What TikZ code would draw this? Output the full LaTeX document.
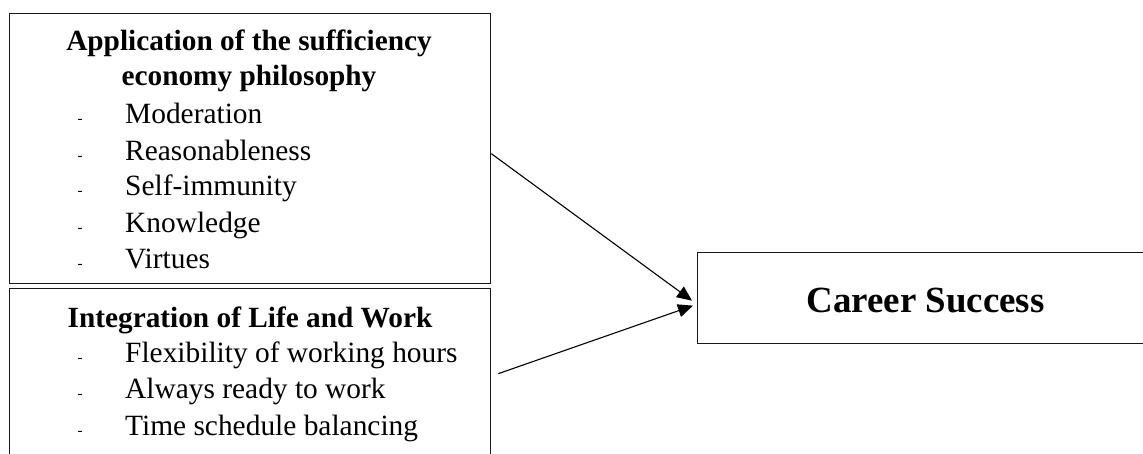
\documentclass[tikz,border=0pt]{standalone}
\usepackage{fontspec}
\setmainfont{Liberation Serif}
\usetikzlibrary{arrows.meta}
\begin{document}
\begin{tikzpicture}[x=1pt,y=-1pt,
  box/.style={draw=black!90, line width=1.3pt, inner sep=0pt, anchor=north west},
  head/.style={font=\fontsize{29.3}{35}\selectfont\bfseries, anchor=base, inner sep=0pt},
  big/.style={font=\fontsize{36.9}{44}\selectfont\bfseries, anchor=base, inner sep=0pt},
  item/.style={font=\fontsize{29.4}{35}\selectfont, anchor=base west, inner sep=0pt},
  dsh/.style={font=\fontsize{15}{18}\selectfont, anchor=base, inner sep=0pt},
  arr/.style={-{Triangle[length=15pt,width=13pt]}, line width=1.1pt}]
\useasboundingbox (0,0) rectangle (1143,453);
\clip (0,0) rectangle (1143,453);
\node[box, minimum width=481pt, minimum height=270pt] (b1) at (9,13) {};
\node[box, minimum width=481pt, minimum height=200pt] (b2) at (9,288) {};
\node[box, minimum width=457pt, minimum height=91pt] (cs) at (697,252) {};
% box 1 texts
\node[head] (h1a) at (249,50) {Application of the sufficiency};
\node[head] (h1b) at (249,85) {economy philosophy};
\node[dsh] (d11) at (80,123) {-}; \node[item] (i11) at (125,123) {Moderation};
\node[dsh] (d12) at (80,160) {-}; \node[item] (i12) at (125,160) {Reasonableness};
\node[dsh] (d13) at (80,195) {-}; \node[item] (i13) at (125,195) {Self-immunity};
\node[dsh] (d14) at (80,232) {-}; \node[item] (i14) at (125,232) {Knowledge};
\node[dsh] (d15) at (80,268) {-}; \node[item] (i15) at (125,268) {Virtues};
% box 2 texts
\node[head] (h2) at (250,327) {Integration of Life and Work};
\node[dsh] (d21) at (80,362) {-}; \node[item] (i21) at (125,362) {Flexibility of working hours};
\node[dsh] (d22) at (80,398) {-}; \node[item] (i22) at (125,398) {Always ready to work};
\node[dsh] (d23) at (80,435) {-}; \node[item] (i23) at (125,435) {Time schedule balancing};
% outcome
\node[big] (cst) at (925.5,312) {Career Success};
% arrows
\draw[arr] ([yshift=-5pt]b1.east) -- ([xshift=-5pt,yshift=-2.5pt]cs.west);
\draw[arr] ([xshift=7pt,yshift=15pt]b2.east) -- ([xshift=-4pt,yshift=-7.5pt]cs.west);
\end{tikzpicture}
\end{document}
